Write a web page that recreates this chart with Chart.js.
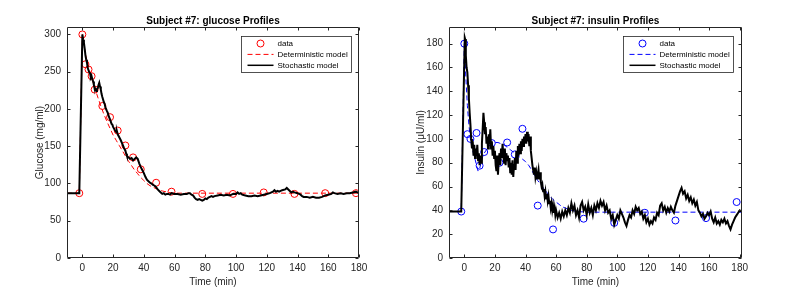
<!DOCTYPE html>
<html>
<head>
<meta charset="utf-8">
<script src="https://cdn.jsdelivr.net/npm/chart.js@4.4.1/dist/chart.umd.min.js"></script>
<style>
  body { margin: 0; background: #fff; }
  .wrap { position: absolute; top: 0; width: 396px; height: 299px; }
</style>
</head>
<body>
<div class="wrap" style="left:0"><canvas id="glucoseChart" width="396" height="299"></canvas></div>
<div class="wrap" style="left:396px"><canvas id="insulinChart" width="396" height="299"></canvas></div>
<script>
// Sampling times and measured values
const glucoseTimes = [-2, 0, 2, 4, 6, 8, 13, 18, 23, 28, 33, 38, 48, 58, 78, 98, 118, 138, 158, 178];
const glucoseData = [87, 300, 260, 253, 244, 226, 204, 189, 171, 151, 135, 119, 101, 89, 86, 86, 88, 86, 87, 87];

const insulinTimes = [-2, 0, 2, 4, 8, 10, 13, 18, 23, 28, 33, 38, 48, 58, 78, 98, 118, 138, 158, 178];
const insulinData = [39, 180, 104, 100, 105, 77.5, 89, 96.5, 80, 97, 87, 108.5, 44, 24, 33, 29.5, 38, 31.5, 33.5, 47];

// Model curves as [time, value]
const glucoseDet = [[-10,87],[-2,87],[0,300],[1,286],[2,274],[3,264],[4,256],[6,242],[8,229],[10,216],[12,204],[14,193],[16,183],[18,174],[20,165],[22,158],[24,151],[26,144],[28,137],[30,130],[32,124],[34,118],[36,113],[38,108],[40,104],[42,100],[44,97],[46,95],[48,93],[52,90],[56,88],[60,87],[70,87],[180,87]];

const glucoseStoch = [[-10,87],[-2,87],[0,300],[0.5,293],[1,289],[1.5,281],[2,272],[2.5,266],[3,262],[3.5,255],[4,252],[4.5,249],[5,248],[5.5,242],[6,244],[6.5,240],[7,237],[7.5,232],[8,229],[8.5,226],[9,224],[9.5,227],[10,228],[10.5,232],[11,235],[11.5,230],[12,226],[12.5,220],[13,216],[14,209],[14.5,207],[15,202],[16,197],[16.5,195],[17,191],[18,186],[19,180],[19.5,179],[20,176],[21,172],[22,169],[22.5,170],[23,166],[24,162],[25,158],[26,153],[27,148],[28,144],[28.5,140],[29,137],[30,135],[31,133],[32,134],[33,131],[34,133],[35,135],[36,133],[37,127],[38,122],[39,118],[40,114],[41,109],[42,105],[43,103],[44,101],[45,100],[46,98],[47,97],[48,95],[49,92],[50,90],[51,88],[52,86],[53,87],[54,85],[55,86],[56,86],[57,85],[58,87],[60,86],[61,86],[62,86],[64,85],[66,86],[68,86],[69,87],[70,87],[71,85],[72,84],[73,81],[74,79],[75,78],[76,79],[77,78],[78,77],[79,78],[80,80],[81,79],[82,81],[83,82],[84,83],[85,82],[86,83],[88,84],[90,85],[92,84],[94,85],[96,84],[98,86],[100,86],[101,88],[102,86],[103,87],[104,85],[106,84],[108,83],[110,83],[112,84],[114,83],[116,84],[118,85],[120,86],[122,87],[124,89],[125,91],[126,89],[127,90],[128,89],[130,91],[132,92],[133,94],[134,92],[135,90],[136,88],[137,89],[138,88],[140,87],[141,86],[142,85],[143,83],[144,82],[146,82],[148,81],[150,82],[152,81],[154,81],[156,82],[158,84],[160,85],[162,86],[163,88],[164,87],[166,86],[168,87],[170,86],[172,87],[174,87],[176,88],[178,89],[179,88],[180,87]];

const insulinDet = [[-10,39],[-2,39],[0,180],[1,152],[2,128],[3,112],[4,100],[5,93],[6,88],[7,83],[8,78],[9,73],[10,75],[11,80],[12,85],[13,88],[14,90],[16,94],[18,96],[20,97],[22,97],[24,96],[26,95],[28,93],[30,91],[32,89],[34,87],[36,85],[38,83],[40,81],[42,78],[44,74],[46,69],[48,65],[50,62],[52,58],[54,55],[56,52],[58,49],[60,47],[62,45],[64,43],[66,42],[68,41],[70,40],[74,39],[80,38.5],[181.5,38.5]];

const insulinStoch = [[-10,39],[-2,39],[0.3,185],[0.5,184],[1,170],[1.5,160],[2,156],[2.5,145],[3,134],[3.5,122],[4,112],[4.5,100],[5,92],[5.5,98],[6,86],[6.5,95],[7,84],[7.5,92],[8,86],[8.5,95],[9,82],[9.5,88],[10,78],[10.5,86],[11,80],[11.5,96],[12,108],[12.5,122],[13,114],[13.5,104],[14,110],[14.5,96],[15,102],[15.5,92],[16,104],[16.5,96],[17,108],[17.5,92],[18,98],[18.5,86],[19,94],[19.5,84],[20,90],[20.5,78],[21,73],[21.5,86],[22,70],[22.5,82],[23,88],[23.5,78],[24,92],[24.5,84],[25,96],[25.5,86],[26,80],[26.5,92],[27,78],[27.5,88],[28,82],[28.5,86],[29,76],[29.5,84],[30,72],[30.5,80],[31,70],[31.5,82],[32,68],[32.5,78],[33,84],[33.5,74],[34,90],[34.5,80],[35,94],[35.5,86],[36,96],[36.5,88],[37,98],[37.5,90],[38,100],[38.5,94],[39,102],[39.5,96],[40,104],[40.5,96],[41,106],[41.5,98],[42,104],[42.5,94],[43,102],[43.5,90],[44,84],[44.5,78],[45,74],[45.5,70],[46,76],[46.5,68],[47,72],[47.5,66],[48,70],[48.5,74],[49,66],[49.5,72],[50,64],[50.5,60],[51,62],[51.5,56],[52,58],[52.5,52],[53,56],[53.5,50],[54,54],[54.5,48],[55,52],[55.5,46],[56,48],[56.5,42],[57,46],[57.5,40],[58,44],[58.5,38],[59,42],[59.5,36],[60,40],[61,34],[62,38],[63,33],[64,39],[65,35],[66,40],[67,36],[68,42],[69,38],[70,46],[71,40],[72,44],[73,36],[74,40],[75,34],[76,44],[77,47],[78,40],[79,43],[80,36],[81,45],[82,38],[83,42],[84,36],[85,44],[86,40],[87,46],[88,42],[89,48],[90,44],[91,47],[92,40],[93,44],[94,38],[95,40],[96,33],[97,36],[98,28],[99,32],[100,36],[101,33],[102,40],[103,37],[104,34],[105,30],[106,27],[107,32],[108,36],[109,34],[110,40],[111,37],[112,43],[113,40],[114,42],[115,37],[116,39],[117,33],[118,36],[119,30],[120,33],[121,28],[122,31],[123,29],[124,34],[125,32],[126,38],[127,36],[128,44],[129,46],[130,40],[131,43],[132,38],[133,42],[134,39],[135,43],[136,40],[137,38],[138,44],[139,48],[140,52],[141,56],[142,59],[143,54],[144,56],[145,50],[146,53],[147,48],[148,51],[149,46],[150,49],[151,44],[152,47],[153,40],[154,38],[155,35],[156,37],[157,33],[158,35],[159,38],[160,36],[161,39],[162,33],[163,30],[164,34],[165,29],[166,31],[167,28],[168,32],[169,30],[170,33],[171,29],[172,31],[173,27],[174,24],[175,28],[176,31],[177,34],[178,36],[179,38],[180,40],[181,39]];

// Tick labels
const timeTicks = [0, 20, 40, 60, 80, 100, 120, 140, 160, 180];
const glucoseTicks = [0, 50, 100, 150, 200, 250, 300];
const insulinTicks = [0, 20, 40, 60, 80, 100, 120, 140, 160, 180];

const FONT = "'Liberation Sans', Arial, sans-serif";
const INK = "#262626";

Chart.defaults.font.family = FONT;
Chart.defaults.font.size = 10;
Chart.defaults.color = INK;

// MATLAB-style box, inward ticks, title and legend
const frame = {
  id: "frame",
  afterDraw(chart, args, opts) {
    const { ctx, chartArea: a } = chart;
    const xs = chart.scales.x, ys = chart.scales.y;
    const L = Math.round(a.left) + 0.5, R = Math.round(a.right) - 0.5;
    const T = Math.round(a.top) + 0.5, B = Math.round(a.bottom) - 0.5;
    ctx.save();
    ctx.strokeStyle = INK;
    ctx.lineWidth = 1;
    ctx.beginPath();
    ctx.rect(L, T, R - L, B - T);
    opts.xTicks.forEach((v) => {
      const p = Math.round(xs.getPixelForValue(v)) + 0.5;
      ctx.moveTo(p, B); ctx.lineTo(p, B - 3);
      ctx.moveTo(p, T); ctx.lineTo(p, T + 3);
    });
    opts.yTicks.forEach((v) => {
      const p = Math.round(ys.getPixelForValue(v)) + 0.5;
      ctx.moveTo(L, p); ctx.lineTo(L + 3, p);
      ctx.moveTo(R, p); ctx.lineTo(R - 3, p);
    });
    ctx.stroke();

    ctx.fillStyle = "#000";
    ctx.font = "bold 10px " + FONT;
    ctx.textAlign = "center";
    ctx.textBaseline = "middle";
    ctx.fillText(opts.title, (a.left + a.right) / 2, 21);

    // legend
    const w = 110, h = 36;
    const bx = Math.round(a.right - opts.legendRight - w) + 0.5;
    const by = Math.round(a.top + 9) + 0.5;
    ctx.fillStyle = "#fff";
    ctx.fillRect(bx, by, w, h);
    ctx.lineWidth = 0.8;
    ctx.strokeStyle = INK;
    ctx.strokeRect(bx, by, w, h);
    ctx.font = "8px " + FONT;
    ctx.textAlign = "left";
    chart.data.datasets.forEach((ds, i) => {
      const yy = by + 7 + i * 10.9;
      ctx.strokeStyle = ds.borderColor;
      ctx.lineWidth = ds.showLine ? Math.min(ds.borderWidth, 1.5) : ds.borderWidth;
      ctx.setLineDash(ds.borderDash || []);
      ctx.beginPath();
      if (ds.showLine) {
        ctx.moveTo(bx + 6, yy);
        ctx.lineTo(bx + 32, yy);
      } else {
        ctx.arc(bx + 19, yy, ds.pointRadius, 0, Math.PI * 2);
      }
      ctx.stroke();
      ctx.setLineDash([]);
      ctx.fillStyle = "#000";
      ctx.fillText(ds.label, bx + 36, yy + 0.5);
    });
    ctx.restore();
  },
};

function pairs(list) {
  return list.map((p) => ({ x: p[0], y: p[1] }));
}

function points(times, values) {
  return times.map((t, i) => ({ x: t, y: values[i] }));
}

function makeChart(id, s) {
  return new Chart(document.getElementById(id), {
    type: "scatter",
    data: {
      datasets: [
        {
          label: "data",
          data: points(s.times, s.values),
          borderColor: s.color,
          backgroundColor: "transparent",
          borderWidth: 1,
          pointRadius: 3.5,
          showLine: false,
          order: 3,
        },
        {
          label: "Deterministic model",
          data: pairs(s.det),
          borderColor: s.color,
          borderWidth: 1,
          borderDash: [5, 3],
          pointRadius: 0,
          showLine: true,
          order: 2,
        },
        {
          label: "Stochastic model",
          data: pairs(s.stoch),
          borderColor: "#000",
          borderWidth: 2,
          pointRadius: 0,
          showLine: true,
          order: 1,
        },
      ],
    },
    options: {
      responsive: false,
      animation: false,
      events: [],
      layout: { padding: { top: 27, right: s.padRight, bottom: 0, left: 0 } },
      plugins: {
        legend: { display: false },
        tooltip: { enabled: false },
        frame: { title: s.title, xTicks: timeTicks, yTicks: s.yTicks, legendRight: s.legendRight },
      },
      scales: {
        x: {
          type: "linear",
          min: -10,
          max: s.xMax,
          afterBuildTicks: (sc) => { sc.ticks = timeTicks.map((v) => ({ value: v })); },
          afterFit: (sc) => { sc.height = 41; },
          grid: { display: false, drawTicks: false },
          border: { display: false },
          ticks: { padding: 4, color: INK, maxRotation: 0 },
          title: { display: true, text: "Time (min)", color: INK, padding: { top: 0, bottom: 11 } },
        },
        y: {
          type: "linear",
          min: 0,
          max: s.yMax,
          afterBuildTicks: (sc) => { sc.ticks = s.yTicks.map((v) => ({ value: v })); },
          afterFit: (sc) => { sc.width = s.yWidth; },
          grid: { display: false, drawTicks: false },
          border: { display: false },
          ticks: { padding: 6, color: INK },
          title: { display: true, text: s.yTitle, color: INK, padding: { top: s.yTitlePad, bottom: 0 } },
        },
      },
    },
    plugins: [frame],
  });
}

makeChart("glucoseChart", {
  title: "Subject #7: glucose Profiles",
  yTitle: "Glucose (mg/ml)",
  color: "#ff0000",
  times: glucoseTimes,
  values: glucoseData,
  det: glucoseDet,
  stoch: glucoseStoch,
  yTicks: glucoseTicks,
  xMax: 180,
  yMax: 310,
  yWidth: 67,
  yTitlePad: 34,
  padRight: 37,
  legendRight: 8,
});

makeChart("insulinChart", {
  title: "Subject #7: insulin Profiles",
  yTitle: "Insulin (\u03bcU/ml)",
  color: "#0000ff",
  times: insulinTimes,
  values: insulinData,
  det: insulinDet,
  stoch: insulinStoch,
  yTicks: insulinTicks,
  xMax: 181.5,
  yMax: 194,
  yWidth: 53,
  yTitlePad: 19,
  padRight: 50,
  legendRight: 9,
});
</script>
</body>
</html>
